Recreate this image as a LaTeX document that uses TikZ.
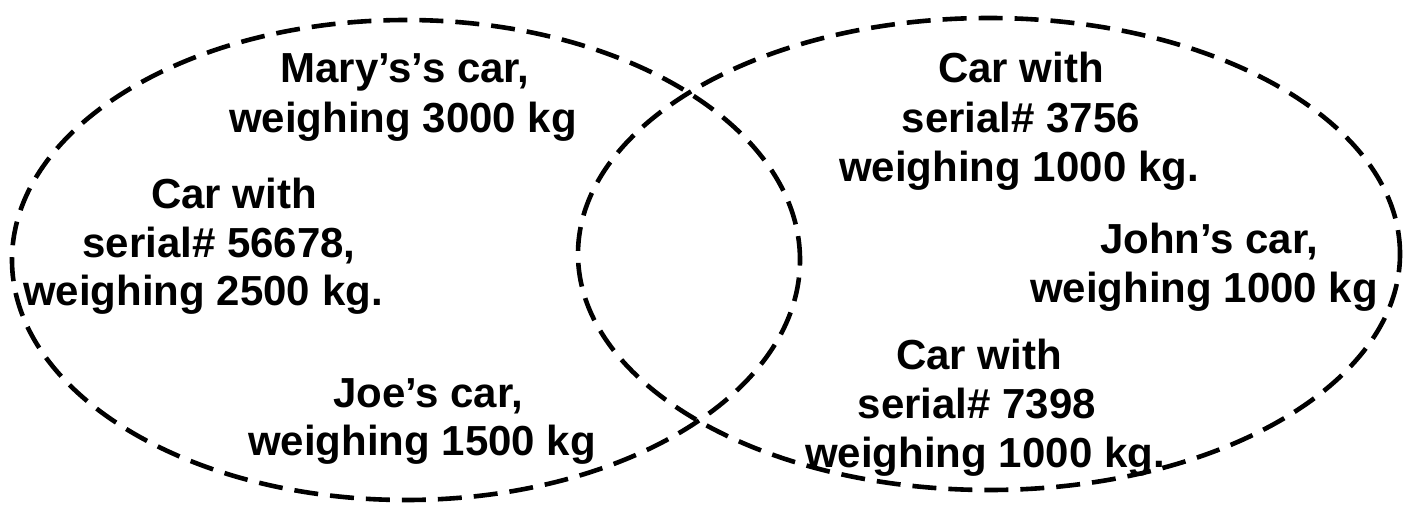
\documentclass[tikz,border=0pt]{standalone}
\usepackage{fontspec}
\setmainfont{Liberation Sans}
\usetikzlibrary{shapes.geometric}
\begin{document}
\begin{tikzpicture}[x=1pt,y=-1pt,
  setring/.style={ellipse,draw,line width=4.6pt,dash pattern=on 24pt off 12pt,inner sep=0pt,fill=none},
  lbl/.style={font=\fontsize{42}{47}\selectfont\bfseries,inner sep=0pt,anchor=base}]
\useasboundingbox (0,0) rectangle (1407,506);
\node[setring,minimum width=788pt,minimum height=480pt] (L) at (406,260) {};
\node[setring,minimum width=822pt,minimum height=472pt] (R) at (989,254) {};
% left set
\node[lbl] (m1) at (405,82) {Mary’s’s car,};
\node[lbl] (m2) at (403,132) {weighing 3000 kg};
\node[lbl] (a1) at (234,208) {Car with};
\node[lbl] (a2) at (219,257) {serial\# 56678,};
\node[lbl] (a3) at (203,305) {weighing 2500 kg.};
\node[lbl] (j1) at (428,407) {Joe’s car,};
\node[lbl] (j2) at (422,455) {weighing 1500 kg};
% right set
\node[lbl] (b1) at (1021,82) {Car with};
\node[lbl] (b2) at (1021,132) {serial\# 3756};
\node[lbl] (b3) at (1019,181) {weighing 1000 kg.};
\node[lbl] (h1) at (1209,253) {John’s car,};
\node[lbl] (h2) at (1204,302) {weighing 1000 kg};
\node[lbl] (c1) at (979,369) {Car with};
\node[lbl] (c2) at (977,418) {serial\# 7398};
\node[lbl] (c3) at (985,467) {weighing 1000 kg.};
\end{tikzpicture}
\end{document}
